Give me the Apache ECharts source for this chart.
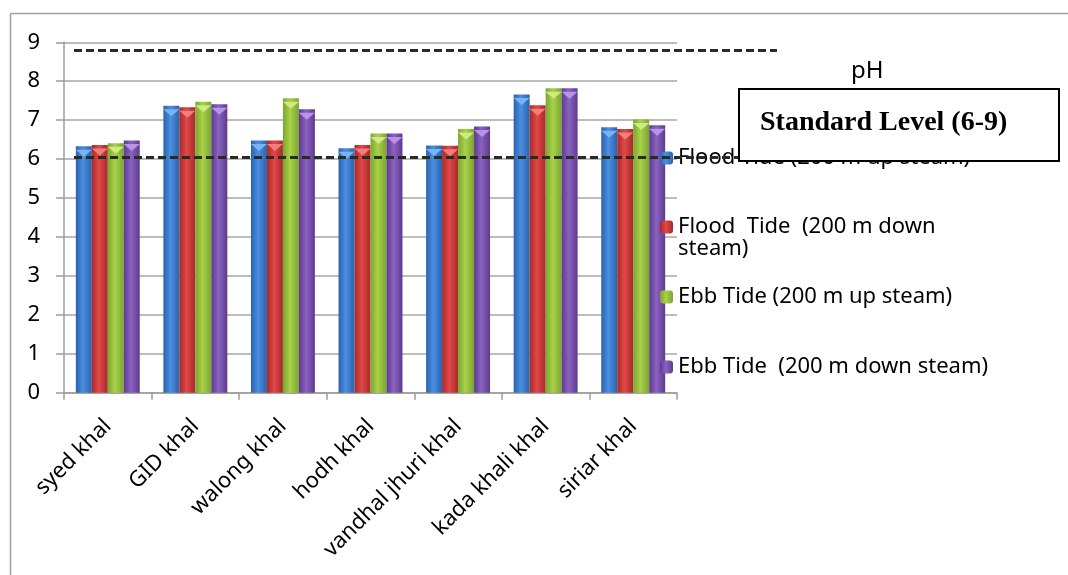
<!DOCTYPE html>
<html>
<head>
<meta charset="utf-8">
<script src="https://cdn.jsdelivr.net/npm/echarts@6/dist/echarts.min.js"></script>
<style>
html,body{margin:0;padding:0;background:#fff;}
#chart{width:1068px;height:575px;}
</style>
</head>
<body>
<div id="chart"></div>
<script>
var categories = ['syed khal', 'GID khal', 'walong khal', 'hodh khal', 'vandhal jhuri khal', 'kada khali khal', 'siriar khal'];
var seriesNames = ['Flood Tide (200 m up steam)', 'Flood  Tide  (200 m down steam)', 'Ebb Tide (200 m up steam)', 'Ebb Tide  (200 m down steam)'];
var floodUp = [6.33, 7.37, 6.48, 6.28, 6.35, 7.66, 6.82];
var floodDown = [6.36, 7.33, 6.48, 6.36, 6.34, 7.38, 6.77];
var ebbUp = [6.41, 7.47, 7.56, 6.66, 6.77, 7.82, 7.02];
var ebbDown = [6.48, 7.41, 7.28, 6.66, 6.84, 7.82, 6.87];
var yTicks = [0, 9, 1];
var standardLevels = [6.05, 8.8];
var titleText = 'pH';
var boxText = 'Standard Level (6-9)';

var FONT = '"Noto Sans", "DejaVu Sans", sans-serif';
var colorSets = [
  ['#2c62ad', '#4a8fe2', '#2c62ad', '#78b4f2'],
  ['#a52a2a', '#e24848', '#a52a2a', '#f27d7d'],
  ['#7ca52e', '#a8d24a', '#7ca52e', '#cfea80'],
  ['#5d3b8d', '#8a62c0', '#5d3b8d', '#b894e6']
];
function grad(c) {
  return new echarts.graphic.LinearGradient(0, 0, 1, 0, [
    {offset: 0, color: c[0]}, {offset: 0.45, color: c[1]}, {offset: 1, color: c[2]}
  ]);
}
var dataSets = [floodUp, floodDown, ebbUp, ebbDown];

var series = dataSets.map(function (d, i) {
  var s = {
    name: seriesNames[i],
    type: 'bar',
    data: d,
    barGap: '0%',
    barCategoryGap: '27%',
    itemStyle: {color: grad(colorSets[i])}
  };
  if (i === 0) {
    s.markLine = {
      silent: true,
      symbol: 'none',
      z: 5,
      label: {show: false},
      lineStyle: {color: '#262c20', width: 3, type: [8, 4]},
      data: standardLevels.map(function (v) {
        return [{yAxis: v, x: 74}, {yAxis: v, x: 777}];
      })
    };
  }
  return s;
});
dataSets.forEach(function (d, i) {
  series.push({
    name: 'cap' + i,
    type: 'pictorialBar',
    data: d,
    barGap: '0%',
    barCategoryGap: '27%',
    symbol: 'path://M0,0 L10,0 L5,6 Z',
    symbolSize: ['100%', 7],
    symbolPosition: 'end',
    symbolOffset: [0, '50%'],
    silent: true,
    z: 3,
    itemStyle: {color: colorSets[i][3]}
  });
});

var legendTops = [147, 194, 286, 356];
var legends = seriesNames.map(function (n, i) {
  return {
    data: [n],
    orient: 'vertical',
    left: 660,
    top: legendTops[i],
    padding: 0,
    itemWidth: 13,
    itemHeight: 13,
    selectedMode: false,
    textStyle: {fontFamily: FONT, fontSize: 22, color: '#000'},
    formatter: i === 1 ? function () { return '\nFlood  Tide  (200 m down\nsteam)'; } : undefined
  };
});

var chart = echarts.init(document.getElementById('chart'), null, {renderer: 'canvas'});
chart.setOption({
  backgroundColor: '#fff',
  animation: false,
  title: {
    text: titleText, left: 851, top: 59, padding: 0,
    textStyle: {fontFamily: FONT, fontSize: 24, fontWeight: 'normal', color: '#000'}
  },
  legend: legends,
  grid: {left: 64, right: 391, top: 42.3, bottom: 182.3},
  xAxis: {
    type: 'category',
    data: categories,
    axisLine: {lineStyle: {color: '#9c9c9c', width: 1.5}},
    axisTick: {show: true, length: 7, lineStyle: {color: '#9c9c9c', width: 1.5}},
    axisLabel: {
      rotate: 45, margin: 30, padding: [12, 0, 0, 0], interval: 0,
      fontFamily: FONT, fontSize: 22, color: '#000'
    }
  },
  yAxis: {
    type: 'value',
    min: yTicks[0], max: yTicks[1], interval: yTicks[2],
    axisLine: {show: true, lineStyle: {color: '#9c9c9c', width: 1.5}},
    axisTick: {show: true, length: 8, lineStyle: {color: '#9c9c9c', width: 1.5}},
    splitLine: {lineStyle: {color: '#a6a6a6', width: 1.5}},
    axisLabel: {margin: 24, fontFamily: FONT, fontSize: 22, color: '#000'}
  },
  series: series,
  graphic: [
    {type: 'line', z: 50, shape: {x1: 10.5, y1: 13.5, x2: 1068, y2: 13.5}, style: {stroke: '#a0a0a0', lineWidth: 1.5}},
    {type: 'line', z: 50, shape: {x1: 10.5, y1: 13.5, x2: 10.5, y2: 575}, style: {stroke: '#a0a0a0', lineWidth: 1.5}},
    {type: 'rect', z: 100, shape: {x: 739, y: 89, width: 320, height: 72}, style: {fill: '#fff', stroke: '#000', lineWidth: 2}},
    {type: 'text', z: 101, x: 760, y: 123, style: {text: boxText, fill: '#000', font: 'bold 28px "Liberation Serif", "Times New Roman", serif', verticalAlign: 'middle'}}
  ]
});
</script>
</body>
</html>
